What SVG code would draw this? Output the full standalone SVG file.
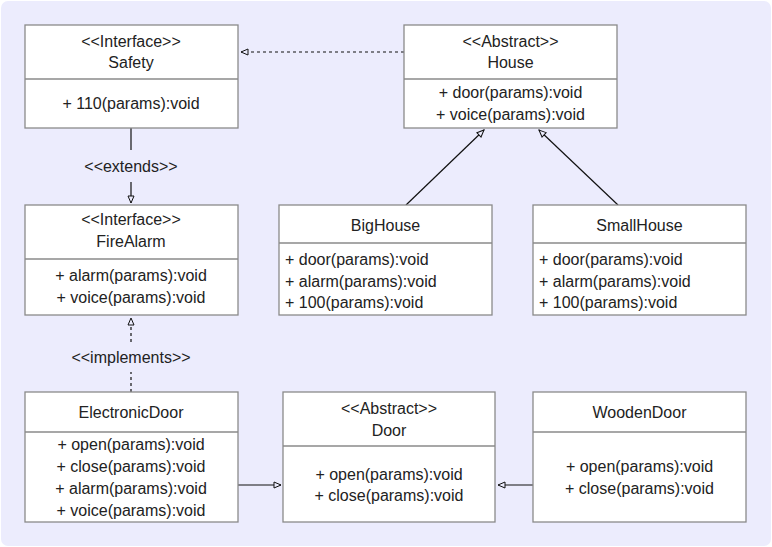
<svg xmlns="http://www.w3.org/2000/svg" width="772" height="547" viewBox="0 0 772 547">
<style>
.bg{fill:#ececfd;}
.box{fill:#ffffff;stroke:#8a8a8a;stroke-width:1.3;}
.div{stroke:#8a8a8a;stroke-width:1.3;}
text{font-family:"Liberation Sans",Arial,sans-serif;font-size:16px;fill:#222;}
.c{text-anchor:middle;}
.l{text-anchor:start;}
.edge{fill:none;stroke:#111;stroke-width:1.2;}
.dash{stroke-dasharray:3,3;}
</style>
<defs>
<marker id="tri" viewBox="0 0 9 8" refX="8" refY="4" markerWidth="9" markerHeight="8" markerUnits="userSpaceOnUse" orient="auto">
<path d="M1,1 L8,4 L1,7 Z" fill="#ececfd" stroke="#111" stroke-width="1"/>
</marker>
</defs>
<rect class="bg" x="1" y="1" width="770" height="545" rx="7"/>

<g id="connectors">
<path class="edge dash" d="M404,52 L241,52" marker-end="url(#tri)"/>
<path class="edge" d="M131,128 L131,150"/>
<path class="edge" d="M131,182 L131,203" marker-end="url(#tri)"/>
<path class="edge dash" d="M131,392 L131,372"/>
<path class="edge dash" d="M131,342 L131,318" marker-end="url(#tri)"/>
<path class="edge" d="M406,205 L484,130" marker-end="url(#tri)"/>
<path class="edge" d="M618,205 L539,130" marker-end="url(#tri)"/>
<path class="edge" d="M238,485 L281,485" marker-end="url(#tri)"/>
<path class="edge" d="M533,485 L498,485" marker-end="url(#tri)"/>
<text class="c" x="131" y="172">&lt;&lt;extends&gt;&gt;</text>
<text class="c" x="131" y="363">&lt;&lt;implements&gt;&gt;</text>
</g>

<g id="Safety">
<rect class="box" x="25" y="25" width="213" height="103"/>
<line class="div" x1="25" y1="79" x2="238" y2="79"/>
<text class="c" x="131" y="47">&lt;&lt;Interface&gt;&gt;</text>
<text class="c" x="131" y="68">Safety</text>
<text class="c" x="131" y="109">+ 110(params):void</text>
</g>

<g id="House">
<rect class="box" x="404" y="25" width="213" height="103"/>
<line class="div" x1="404" y1="79" x2="617" y2="79"/>
<text class="c" x="510.5" y="47">&lt;&lt;Abstract&gt;&gt;</text>
<text class="c" x="510.5" y="68">House</text>
<text class="c" x="510.5" y="98">+ door(params):void</text>
<text class="c" x="510.5" y="120">+ voice(params):void</text>
</g>

<g id="FireAlarm">
<rect class="box" x="25" y="205" width="213" height="110"/>
<line class="div" x1="25" y1="259" x2="238" y2="259"/>
<text class="c" x="131" y="225">&lt;&lt;Interface&gt;&gt;</text>
<text class="c" x="131" y="247">FireAlarm</text>
<text class="c" x="131" y="281">+ alarm(params):void</text>
<text class="c" x="131" y="303">+ voice(params):void</text>
</g>

<g id="BigHouse">
<rect class="box" x="279" y="205" width="213" height="110"/>
<line class="div" x1="279" y1="243" x2="492" y2="243"/>
<text class="c" x="385.5" y="231">BigHouse</text>
<text class="l" x="285" y="265">+ door(params):void</text>
<text class="l" x="285" y="287">+ alarm(params):void</text>
<text class="l" x="285" y="308">+ 100(params):void</text>
</g>

<g id="SmallHouse">
<rect class="box" x="533" y="205" width="213" height="110"/>
<line class="div" x1="533" y1="243" x2="746" y2="243"/>
<text class="c" x="639.5" y="231">SmallHouse</text>
<text class="l" x="539" y="265">+ door(params):void</text>
<text class="l" x="539" y="287">+ alarm(params):void</text>
<text class="l" x="539" y="308">+ 100(params):void</text>
</g>

<g id="ElectronicDoor">
<rect class="box" x="25" y="392" width="213" height="130"/>
<line class="div" x1="25" y1="432" x2="238" y2="432"/>
<text class="c" x="131" y="418">ElectronicDoor</text>
<text class="c" x="131" y="450">+ open(params):void</text>
<text class="c" x="131" y="472">+ close(params):void</text>
<text class="c" x="131" y="494">+ alarm(params):void</text>
<text class="c" x="131" y="516">+ voice(params):void</text>
</g>

<g id="Door">
<rect class="box" x="283" y="392" width="212" height="130"/>
<line class="div" x1="283" y1="446" x2="495" y2="446"/>
<text class="c" x="389" y="414">&lt;&lt;Abstract&gt;&gt;</text>
<text class="c" x="389" y="436">Door</text>
<text class="c" x="389" y="480">+ open(params):void</text>
<text class="c" x="389" y="501">+ close(params):void</text>
</g>

<g id="WoodenDoor">
<rect class="box" x="533" y="392" width="213" height="130"/>
<line class="div" x1="533" y1="432" x2="746" y2="432"/>
<text class="c" x="639.5" y="418">WoodenDoor</text>
<text class="c" x="639.5" y="472">+ open(params):void</text>
<text class="c" x="639.5" y="494">+ close(params):void</text>
</g>
</svg>
